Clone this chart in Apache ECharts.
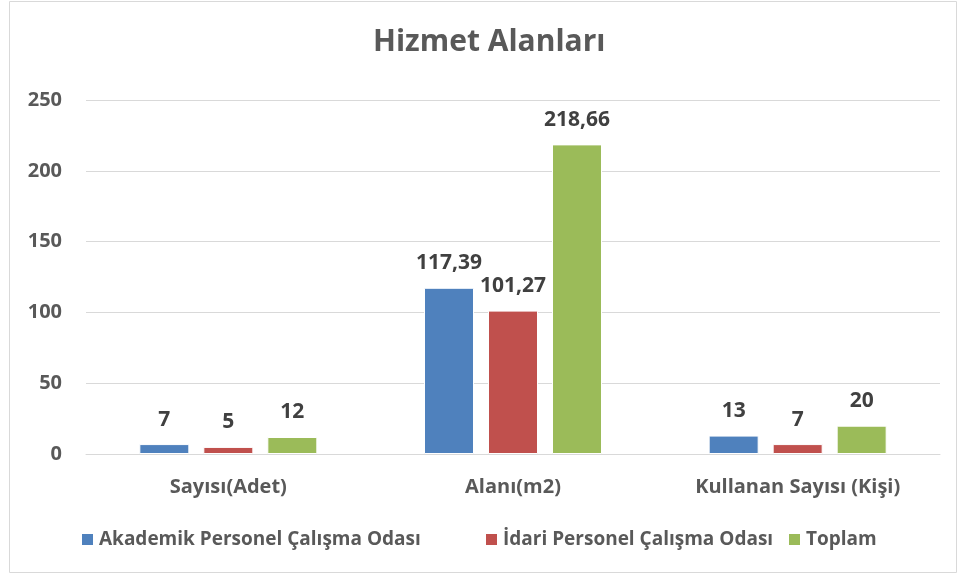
<!DOCTYPE html>
<html>
<head>
<meta charset="utf-8">
<script src="https://cdn.jsdelivr.net/npm/echarts@6/dist/echarts.min.js"></script>
<style>
  html, body { margin: 0; padding: 0; background: #fff; }
  #chart { width: 959px; height: 575px; }
</style>
</head>
<body>
<div id="chart"></div>
<script>
var categories = ['Sayısı(Adet)', 'Alanı(m2)', 'Kullanan Sayısı (Kişi)'];
var akademik = [7, 117.39, 13];
var idari = [5, 101.27, 7];
var toplam = [12, 218.66, 20];
var seriesNames = ['Akademik Personel Çalışma Odası', 'İdari Personel Çalışma Odası', 'Toplam'];
var colors = ['#4F81BD', '#C0504D', '#9BBB59'];

var FONT = '"Open Sans", "Noto Sans", sans-serif';
var legendLeft = [80, 484, 787];

// virgüllü ondalık gösterim
function fmt(p) {
  return String(p.value).replace('.', ',');
}

function barSeries(name, data, color) {
  return {
    name: name,
    type: 'bar',
    data: data,
    barWidth: 50,
    barGap: '28%',
    itemStyle: { color: color, borderColor: '#fff', borderWidth: 1 },
    label: {
      show: true,
      position: 'top',
      distance: 14,
      formatter: fmt,
      color: '#404040',
      fontFamily: FONT,
      fontWeight: 'bold',
      fontSize: 21
    }
  };
}

// her lejant öğesi ayrı yerleşiyor
var legends = [];
for (var i = 0; i < seriesNames.length; i++) {
  legends.push({
    bottom: 26,
    left: legendLeft[i],
    padding: 0,
    itemWidth: 13,
    itemHeight: 13,
    icon: 'rect',
    textStyle: { color: '#595959', fontFamily: FONT, fontWeight: 'bold', fontSize: 19 },
    data: [seriesNames[i]]
  });
}

var myChart = echarts.init(document.getElementById('chart'));
var option = {
  animation: false,
  color: colors,
  title: {
    text: 'Hizmet Alanları',
    left: 373,
    top: 27,
    padding: 0,
    textStyle: { color: '#595959', fontFamily: FONT, fontWeight: 'bold', fontSize: 30 }
  },
  graphic: [{
    type: 'rect',
    shape: { x: 9.5, y: 1.5, width: 947, height: 571 },
    style: { fill: 'none', stroke: '#d9d9d9', lineWidth: 1 },
    silent: true
  }],
  legend: legends,
  grid: { left: 86, right: 19, top: 100, bottom: 121, containLabel: false },
  xAxis: {
    type: 'category',
    data: categories,
    axisLine: { lineStyle: { color: '#d9d9d9', width: 1 } },
    axisTick: { show: false },
    axisLabel: { color: '#595959', fontFamily: FONT, fontWeight: 'bold', fontSize: 20, margin: 23 }
  },
  yAxis: {
    type: 'value',
    min: 0,
    max: 250,
    interval: 50,
    axisLine: { show: false },
    axisTick: { show: false },
    splitLine: { lineStyle: { color: '#d9d9d9', width: 1 } },
    axisLabel: { color: '#595959', fontFamily: FONT, fontWeight: 'bold', fontSize: 20, margin: 24 }
  },
  series: [
    barSeries(seriesNames[0], akademik, colors[0]),
    barSeries(seriesNames[1], idari, colors[1]),
    barSeries(seriesNames[2], toplam, colors[2])
  ]
};
myChart.setOption(option);
</script>
</body>
</html>
